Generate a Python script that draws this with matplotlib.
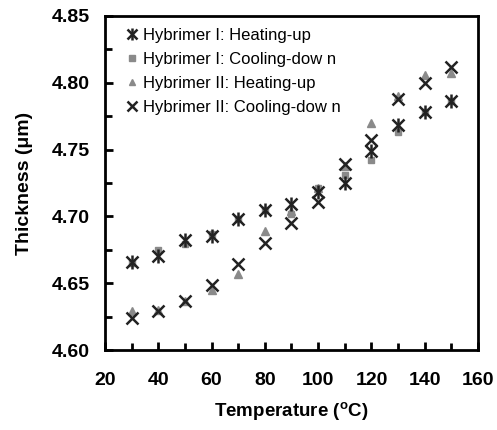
import numpy as np
import matplotlib
matplotlib.use("Agg")
from matplotlib import pyplot as plt
from matplotlib.legend_handler import HandlerTuple

plt.rcParams['font.family'] = ['Liberation Sans', 'DejaVu Sans']
plt.rcParams['mathtext.fontset'] = 'custom'
plt.rcParams['mathtext.rm'] = 'Liberation Sans:bold'
plt.rcParams['mathtext.default'] = 'rm'

# Temperatures and thickness readings (um)
temperature = [30, 40, 50, 60, 70, 80, 90, 100, 110, 120, 130, 140, 150]
h1_heating = [4.666, 4.670, 4.682, 4.685, 4.698, 4.705, 4.709, 4.718, 4.725, 4.749, 4.768, 4.778, 4.786]
h1_cooling = [4.665, 4.675, 4.679, 4.687, 4.698, 4.705, 4.702, 4.721, 4.731, 4.742, 4.763, 4.778, 4.786]
h2_heating = [4.629, 4.630, 4.637, 4.645, 4.657, 4.689, 4.704, 4.721, 4.738, 4.770, 4.790, 4.806, 4.807]
h2_cooling = [4.624, 4.629, 4.637, 4.649, 4.664, 4.680, 4.695, 4.711, 4.739, 4.757, 4.788, 4.800, 4.812]

labels = ["Hybrimer I: Heating-up", "Hybrimer I: Cooling-dow n",
          "Hybrimer II: Heating-up", "Hybrimer II: Cooling-dow n"]

fig = plt.figure(figsize=(4.97, 4.30), dpi=100)
ax = fig.add_axes([0.211, 0.186, 0.751, 0.777])

gray = '#8a8a8a'
dark = '#222222'

sq, = ax.plot(temperature, h1_cooling, ls='none', marker='s', ms=4.5, color=gray, mec=gray)
tri, = ax.plot(temperature, h2_heating, ls='none', marker='^', ms=5.5, color=gray, mec=gray)
ax1, = ax.plot(temperature, h1_heating, ls='none', marker='x', ms=8, mew=1.8, color=dark)
ax1v, = ax.plot(temperature, h1_heating, ls='none', marker='|', ms=10, mew=1.8, color=dark)
xs, = ax.plot(temperature, h2_cooling, ls='none', marker='x', ms=8, mew=1.8, color=dark)

# overlay the x and | so the legend shows one asterisk
ax.legend([(ax1, ax1v), sq, tri, xs], labels,
          handler_map={tuple: HandlerTuple(ndivide=1)},
          loc='upper left', bbox_to_anchor=(0.02, 1.01), frameon=False,
          fontsize=12, handlelength=0.6, handletextpad=0.35, labelspacing=0.55,
          markerscale=0.85)

ax.set_xlim(20, 160)
ax.set_ylim(4.60, 4.85)
ax.set_xticks(np.arange(20, 161, 20))
ax.set_xticks(np.arange(20, 161, 10), minor=True)
ax.set_yticks(np.arange(4.60, 4.851, 0.05))
ax.set_yticks(np.arange(4.60, 4.851, 0.025), minor=True)
ax.set_yticklabels(["%.2f" % v for v in np.arange(4.60, 4.851, 0.05)])

ax.tick_params(which='both', direction='in', width=2, top=False, right=False)
ax.tick_params(which='major', length=6, labelsize=14)
ax.tick_params(which='minor', length=5)
ax.tick_params(axis='x', which='major', pad=16)
ax.tick_params(axis='y', which='major', pad=11)
for lab in ax.get_xticklabels() + ax.get_yticklabels():
    lab.set_fontweight('bold')
for sp in ax.spines.values():
    sp.set_linewidth(2)

ax.set_xlabel(r"Temperature ($^{o}$C)", fontsize=13.5, fontweight='bold', labelpad=8)
ax.set_ylabel("Thickness (μm)", fontsize=14, fontweight='bold', labelpad=13)

fig.savefig("out.png", dpi=100)
